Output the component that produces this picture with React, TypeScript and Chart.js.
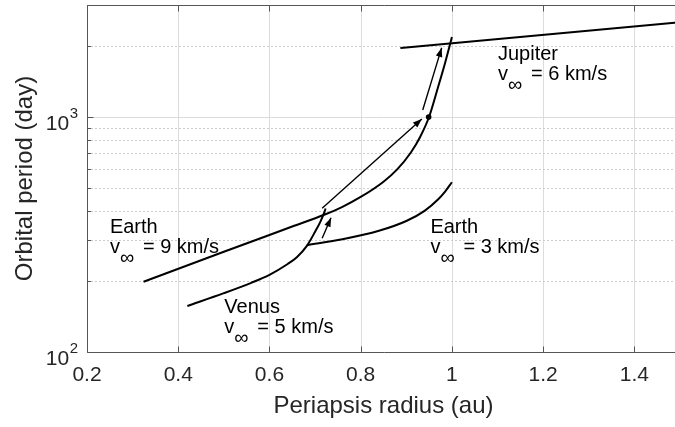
import React, { useEffect, useRef } from "react";
import { Chart, registerables } from "chart.js";

Chart.register(...registerables);

const FONT = "'Liberation Sans', Arial, Helvetica, sans-serif";

// axis ticks
const xTicks = [0.2, 0.4, 0.6, 0.8, 1.0, 1.2, 1.4];
const yMajor = [100, 1000];
const yMinor = [200, 300, 400, 500, 600, 700, 800, 900, 2000, 3000];

// Earth, v_inf = 9 km/s
const earth9R = [0.324, 0.5, 0.65, 0.72, 0.76, 0.8, 0.85, 0.88, 0.91, 0.93, 0.95, 0.97, 0.985, 1.0];
const earth9P = [199, 267, 342, 384, 415, 457, 531, 599, 707, 821, 1003, 1350, 1700, 2190];

// Venus, v_inf = 5 km/s
const venusR = [0.42, 0.5, 0.56, 0.6, 0.64, 0.66, 0.682, 0.7, 0.712, 0.72, 0.723];
const venusP = [157, 178, 197, 213, 237, 253, 283, 325, 360, 392, 408];

// Earth, v_inf = 3 km/s
const earth3R = [0.682, 0.76, 0.84, 0.9, 0.94, 0.97, 0.985, 1.0];
const earth3P = [285, 302, 328, 361, 399, 447, 482, 528];

// Jupiter, v_inf = 6 km/s
const jupiterR = [0.887, 1.5];
const jupiterP = [1968, 2535];

// transfer arrows
const arrow1R = [0.7155, 0.934];
const arrow1P = [409, 981];
const arrow2R = [0.7155, 0.735];
const arrow2P = [305, 373];
const arrow3R = [0.936, 0.9775];
const arrow3P = [1072, 1972];

// marker dot
const dotR = [0.949];
const dotP = [1000];

// text labels
const labelTitles = ["Earth", "Venus", "Earth", "Jupiter"];
const labelSpeeds = ["9 km/s", "5 km/s", "3 km/s", "6 km/s"];
const labelR = [0.2502, 0.501, 0.9528, 1.101];
const labelP = [321, 146.6, 321, 1748];

const pts = (r: number[], p: number[]) => r.map((v, i) => ({ x: v, y: p[i] }));

export default function App() {
  const ref = useRef<HTMLCanvasElement>(null);

  useEffect(() => {
    const canvas = ref.current!;

    const framePlugin = {
      id: "frame",
      beforeDatasetsDraw(chart: any) {
        const { ctx, chartArea: a, scales } = chart;
        const xs = scales.x, ys = scales.y;
        ctx.save();
        ctx.lineWidth = 1;
        // vertical grid
        ctx.strokeStyle = "#dcdcdc";
        ctx.setLineDash([]);
        for (const t of xTicks) {
          const px = Math.round(xs.getPixelForValue(t)) + 0.5;
          if (px <= a.left + 1) continue;
          ctx.beginPath();
          ctx.moveTo(px, a.top);
          ctx.lineTo(px, a.bottom);
          ctx.stroke();
        }
        // major horizontal
        for (const t of yMajor) {
          const py = Math.round(ys.getPixelForValue(t)) + 0.5;
          if (py >= a.bottom - 1) continue;
          ctx.beginPath();
          ctx.moveTo(a.left, py);
          ctx.lineTo(a.right, py);
          ctx.stroke();
        }
        // minor horizontal (dotted)
        ctx.strokeStyle = "#cdcdcd";
        ctx.setLineDash([2, 2]);
        for (const t of yMinor) {
          const py = Math.round(ys.getPixelForValue(t)) + 0.5;
          if (py <= a.top + 1) continue;
          ctx.beginPath();
          ctx.moveTo(a.left, py);
          ctx.lineTo(a.right, py);
          ctx.stroke();
        }
        ctx.restore();
      },
      afterDatasetsDraw(chart: any) {
        const { ctx, chartArea: a, scales } = chart;
        const xs = scales.x, ys = scales.y;
        ctx.save();

        // arrowheads
        ctx.fillStyle = "#000";
        const heads = [
          [arrow1R, arrow1P],
          [arrow2R, arrow2P],
          [arrow3R, arrow3P],
        ];
        for (const [r, p] of heads) {
          const x0 = xs.getPixelForValue(r[0]), y0 = ys.getPixelForValue(p[0]);
          const x1 = xs.getPixelForValue(r[1]), y1 = ys.getPixelForValue(p[1]);
          const ang = Math.atan2(y1 - y0, x1 - x0);
          const L = 9, W = 3.3;
          ctx.beginPath();
          ctx.moveTo(x1, y1);
          ctx.lineTo(x1 - L * Math.cos(ang) + W * Math.sin(ang), y1 - L * Math.sin(ang) - W * Math.cos(ang));
          ctx.lineTo(x1 - L * Math.cos(ang) - W * Math.sin(ang), y1 - L * Math.sin(ang) + W * Math.cos(ang));
          ctx.closePath();
          ctx.fill();
        }

        // text annotations
        ctx.font = `20px ${FONT}`;
        ctx.textAlign = "left";
        ctx.textBaseline = "alphabetic";
        for (let i = 0; i < labelTitles.length; i++) {
          const px = xs.getPixelForValue(labelR[i]);
          const py = ys.getPixelForValue(labelP[i]);
          ctx.fillText(labelTitles[i], px, py);
          const vy = py + 20;
          ctx.fillText("v", px, vy);
          ctx.fillText("\u221E", px + 10, vy + 11);
          ctx.fillText("= " + labelSpeeds[i], px + 33, vy);
        }

        // frame
        ctx.strokeStyle = "#555";
        ctx.lineWidth = 1;
        ctx.setLineDash([]);
        const L0 = Math.round(a.left) + 0.5;
        const T0 = Math.round(a.top) + 0.5;
        const B0 = Math.round(a.bottom) + 0.5;
        ctx.beginPath();
        ctx.moveTo(L0, B0);
        ctx.lineTo(L0, T0);
        ctx.lineTo(a.right + 2, T0);
        ctx.moveTo(L0, B0);
        ctx.lineTo(a.right + 2, B0);
        ctx.stroke();
        // x ticks (inward, top and bottom)
        ctx.beginPath();
        for (const t of xTicks) {
          const px = Math.round(xs.getPixelForValue(t)) + 0.5;
          ctx.moveTo(px, B0);
          ctx.lineTo(px, B0 - 6);
          ctx.moveTo(px, T0);
          ctx.lineTo(px, T0 + 6);
        }
        // y ticks
        for (const t of yMajor) {
          const py = Math.round(ys.getPixelForValue(t)) + 0.5;
          ctx.moveTo(L0, py);
          ctx.lineTo(L0 + 6, py);
        }
        for (const t of yMinor) {
          const py = Math.round(ys.getPixelForValue(t)) + 0.5;
          ctx.moveTo(L0, py);
          ctx.lineTo(L0 + 3.5, py);
        }
        ctx.stroke();

        // y tick labels with superscripts
        ctx.fillStyle = "#262626";
        ctx.textAlign = "right";
        for (const t of yMajor) {
          const py = ys.getPixelForValue(t);
          const exp = String(Math.round(Math.log10(t)));
          ctx.font = `15px ${FONT}`;
          const ew = ctx.measureText(exp).width;
          ctx.fillText(exp, 78, py + 1);
          ctx.font = `21px ${FONT}`;
          ctx.fillText("10", 78 - ew - 0.5, py + 12.5);
        }
        ctx.restore();
      },
    };

    const line = (r: number[], p: number[], w: number) => ({
      data: pts(r, p),
      showLine: true,
      borderColor: "#000",
      backgroundColor: "#000",
      borderWidth: w,
      pointRadius: 0,
      cubicInterpolationMode: "monotone" as const,
      fill: false,
    });

    const chart = new Chart(canvas, {
      type: "scatter",
      data: {
        datasets: [
          line(earth9R, earth9P, 2),
          line(venusR, venusP, 2),
          line(earth3R, earth3P, 2),
          line(jupiterR, jupiterP, 2),
          line(arrow1R, arrow1P, 1.4),
          line(arrow2R, arrow2P, 1.4),
          line(arrow3R, arrow3P, 1.4),
          {
            data: pts(dotR, dotP),
            showLine: false,
            pointRadius: 2.8,
            pointBackgroundColor: "#000",
            pointBorderColor: "#000",
            pointBorderWidth: 0,
          },
        ],
      },
      options: {
        animation: false,
        responsive: true,
        maintainAspectRatio: false,
        events: [],
        layout: { padding: { top: 5, right: 0, bottom: 0, left: 0 } },
        plugins: { legend: { display: false }, tooltip: { enabled: false } },
        scales: {
          x: {
            type: "linear",
            min: 0.2,
            max: 1.5,
            afterBuildTicks: (s: any) => {
              s.ticks = xTicks.map((v) => ({ value: v }));
            },
            afterFit: (s: any) => {
              s.height = 75;
            },
            grid: { display: false, drawTicks: false },
            border: { display: false },
            ticks: {
              padding: 10.7,
              color: "#262626",
              font: { family: FONT, size: 21 },
              maxRotation: 0,
              includeBounds: false,
              callback: (v: any) => String(Number(Number(v).toFixed(1))),
            },
            title: {
              display: true,
              text: "Periapsis radius (au)",
              color: "#262626",
              font: { family: FONT, size: 24 },
              padding: { top: 0, bottom: 6.6 },
            },
          },
          y: {
            type: "logarithmic",
            min: 100,
            max: 3000,
            afterFit: (s: any) => {
              s.width = 87;
            },
            grid: { display: false, drawTicks: false },
            border: { display: false },
            ticks: { display: false },
            title: {
              display: true,
              text: "Orbital period (day)",
              color: "#262626",
              font: { family: FONT, size: 24 },
              padding: { top: 10.6, bottom: 0 },
            },
          },
        },
      },
      plugins: [framePlugin],
    });

    return () => chart.destroy();
  }, []);

  return (
    <div
      style={{
        position: "fixed",
        left: 0,
        top: 0,
        width: 675,
        height: 427,
        overflow: "hidden",
        background: "#fff",
      }}
    >
      <div style={{ position: "relative", width: 684, height: 427 }}>
        <canvas ref={ref} />
      </div>
    </div>
  );
}
